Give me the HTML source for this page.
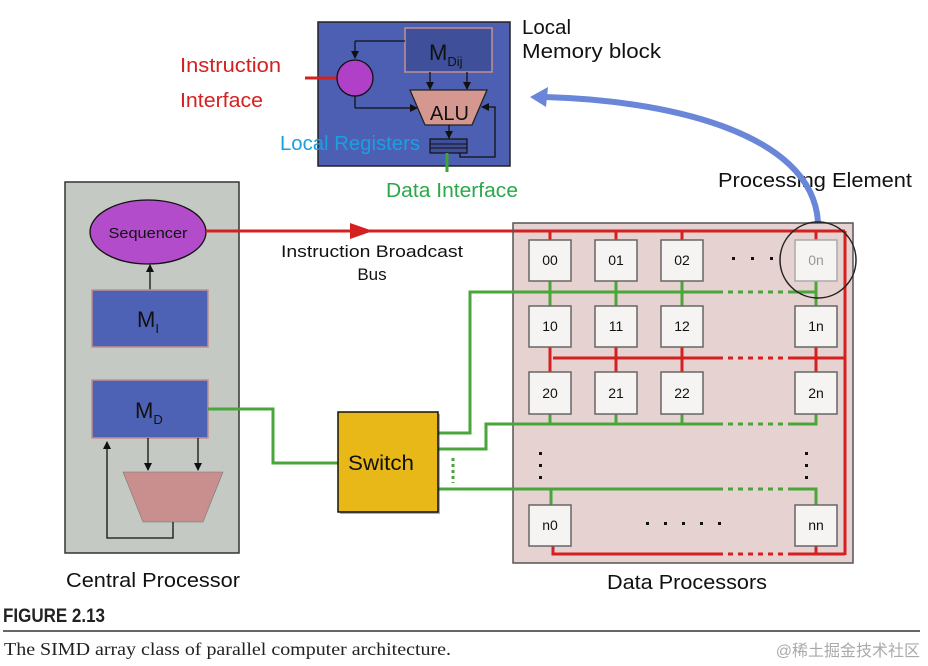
<!DOCTYPE html>
<html><head><meta charset="utf-8"><style>
html,body{margin:0;padding:0;background:#fff;width:928px;height:666px;overflow:hidden}
svg{display:block}
text{font-family:"Liberation Sans",sans-serif}
</style></head><body>
<svg width="928" height="666" viewBox="0 0 928 666" xmlns="http://www.w3.org/2000/svg">
<defs>
<marker id="ab" markerWidth="8" markerHeight="8" refX="7" refY="4" orient="auto" markerUnits="userSpaceOnUse"><path d="M0,0 L8,4 L0,8 z" fill="#111"/></marker>
</defs>
<rect x="318" y="22" width="192" height="144" fill="#4d5fb2" stroke="#222" stroke-width="1.5"/>
<rect x="405" y="28" width="87" height="44" fill="#3f4f9a" stroke="#c09090" stroke-width="1.5"/>
<text x="429" y="60" font-size="22" fill="#111">M<tspan font-size="13" dy="6">Dij</tspan></text>
<line x1="405" y1="41" x2="355" y2="41" stroke="#111" stroke-width="1.3"/>
<line x1="355" y1="41" x2="355" y2="58" stroke="#111" stroke-width="1.3" marker-end="url(#ab)"/>
<line x1="305" y1="78" x2="337" y2="78" stroke="#d42020" stroke-width="3"/>
<circle cx="355" cy="78" r="18" fill="#b040c8" stroke="#111" stroke-width="1.3"/>
<line x1="355" y1="96" x2="355" y2="108" stroke="#111" stroke-width="1.3"/>
<line x1="355" y1="108" x2="417" y2="108" stroke="#111" stroke-width="1.3" marker-end="url(#ab)"/>
<line x1="430" y1="72" x2="430" y2="89" stroke="#111" stroke-width="1.3" marker-end="url(#ab)"/>
<line x1="467" y1="72" x2="467" y2="89" stroke="#111" stroke-width="1.3" marker-end="url(#ab)"/>
<polygon points="410,90 487,90 472,125 425,125" fill="#d49890" stroke="#222" stroke-width="1.3"/>
<text x="430" y="120" font-size="20" fill="#111">ALU</text>
<line x1="449" y1="125" x2="449" y2="138" stroke="#111" stroke-width="1.3" marker-end="url(#ab)"/>
<rect x="430" y="139" width="37" height="14" fill="#3f4f9a" stroke="#111" stroke-width="1.2"/>
<line x1="430" y1="144" x2="467" y2="144" stroke="#111" stroke-width="1"/>
<line x1="430" y1="148" x2="467" y2="148" stroke="#111" stroke-width="1"/>
<polyline points="460,153 460,157 495,157 495,107 482,107" fill="none" stroke="#111" stroke-width="1.3" marker-end="url(#ab)"/>
<line x1="447" y1="153" x2="447" y2="172" stroke="#3aa63a" stroke-width="3"/>
<text x="180" y="72" font-size="20" fill="#d42020" textLength="101" lengthAdjust="spacingAndGlyphs">Instruction</text>
<text x="180" y="107" font-size="20" fill="#d42020" textLength="83" lengthAdjust="spacingAndGlyphs">Interface</text>
<text x="280" y="150" font-size="20" fill="#1aa0e0" textLength="140" lengthAdjust="spacingAndGlyphs">Local Registers</text>
<text x="386" y="197" font-size="20" fill="#2aa84a" textLength="132" lengthAdjust="spacingAndGlyphs">Data Interface</text>
<text x="522" y="34" font-size="20" fill="#111" textLength="49" lengthAdjust="spacingAndGlyphs">Local</text>
<text x="522" y="58" font-size="20" fill="#111" textLength="139" lengthAdjust="spacingAndGlyphs">Memory block</text>
<text x="718" y="187" font-size="20" fill="#111" textLength="194" lengthAdjust="spacingAndGlyphs">Processing Element</text>
<path d="M818,222 C812,130 660,100 545,97" fill="none" stroke="#6a86d8" stroke-width="6"/>
<polygon points="530,97 548,87 546,107" fill="#6a86d8"/>
<rect x="65" y="182" width="174" height="371" fill="#c4c9c4" stroke="#333" stroke-width="1.5"/>
<ellipse cx="148" cy="232" rx="58" ry="32" fill="#b34cca" stroke="#111" stroke-width="1.3"/>
<text x="148" y="238" font-size="15" fill="#111" text-anchor="middle" textLength="79" lengthAdjust="spacingAndGlyphs">Sequencer</text>
<line x1="150" y1="290" x2="150" y2="265" stroke="#111" stroke-width="1.3" marker-end="url(#ab)"/>
<rect x="92" y="290" width="116" height="57" fill="#4d62b4" stroke="#c09090" stroke-width="1.5"/>
<text x="137" y="327" font-size="22" fill="#111">M<tspan font-size="13" dy="6">I</tspan></text>
<rect x="92" y="380" width="116" height="58" fill="#4d62b4" stroke="#c09090" stroke-width="1.5"/>
<text x="135" y="418" font-size="22" fill="#111">M<tspan font-size="13" dy="6">D</tspan></text>
<line x1="148" y1="438" x2="148" y2="470" stroke="#111" stroke-width="1.3" marker-end="url(#ab)"/>
<line x1="198" y1="438" x2="198" y2="470" stroke="#111" stroke-width="1.3" marker-end="url(#ab)"/>
<polygon points="123,472 223,472 203,522 143,522" fill="#c98f8f" stroke="#777" stroke-width="0.6"/>
<polyline points="173,522 173,538 107,538 107,442" fill="none" stroke="#111" stroke-width="1.3" marker-end="url(#ab)"/>
<line x1="206" y1="231" x2="845" y2="231" stroke="#d42020" stroke-width="3"/>
<polygon points="350,223 373,231 350,239" fill="#d42020"/>
<text x="281" y="257" font-size="17" fill="#111" textLength="182" lengthAdjust="spacingAndGlyphs">Instruction Broadcast</text>
<text x="372" y="280" font-size="17" fill="#111" text-anchor="middle">Bus</text>
<rect x="513" y="223" width="340" height="340" fill="#e6d3d1" stroke="#555" stroke-width="1.5"/>
<line x1="513" y1="231" x2="845" y2="231" stroke="#d42020" stroke-width="3"/>
<g stroke="#d42020" stroke-width="3" fill="none">
<line x1="550" y1="231" x2="550" y2="240"/><line x1="616" y1="231" x2="616" y2="240"/><line x1="682" y1="231" x2="682" y2="240"/><line x1="816" y1="231" x2="816" y2="240"/>
<line x1="845" y1="231" x2="845" y2="555"/>
<line x1="553" y1="358" x2="718" y2="358"/><line x1="790" y1="358" x2="845" y2="358"/>
<line x1="718" y1="358" x2="790" y2="358" stroke-dasharray="5,5"/>
<line x1="550" y1="347" x2="550" y2="372"/><line x1="616" y1="347" x2="616" y2="372"/><line x1="682" y1="347" x2="682" y2="372"/><line x1="816" y1="347" x2="816" y2="372"/>
<polyline points="553,546 553,554 718,554"/><line x1="790" y1="554" x2="845" y2="554"/>
<line x1="718" y1="554" x2="790" y2="554" stroke-dasharray="5,5"/>
<line x1="816" y1="546" x2="816" y2="554"/>
</g>
<g stroke="#4aa63a" stroke-width="3" fill="none">
<polyline points="438,433 470,433 470,292 718,292"/><line x1="790" y1="292" x2="816" y2="292"/>
<line x1="718" y1="292" x2="790" y2="292" stroke-dasharray="5,5"/>
<line x1="550" y1="281" x2="550" y2="306"/><line x1="616" y1="281" x2="616" y2="306"/><line x1="682" y1="281" x2="682" y2="306"/><line x1="816" y1="281" x2="816" y2="306"/>
<polyline points="438,449 486,449 486,424 718,424"/><polyline points="790,424 816,424 816,414"/>
<line x1="718" y1="424" x2="790" y2="424" stroke-dasharray="5,5"/>
<line x1="550" y1="414" x2="550" y2="424"/><line x1="616" y1="414" x2="616" y2="424"/><line x1="682" y1="414" x2="682" y2="424"/>
<polyline points="438,489 718,489"/><polyline points="790,489 816,489 816,505"/>
<line x1="718" y1="489" x2="790" y2="489" stroke-dasharray="5,5"/>
<line x1="551" y1="489" x2="551" y2="505"/>
<line x1="453" y1="458" x2="453" y2="483" stroke-dasharray="3,3"/>
<polyline points="208,409 273,409 273,463 338,463"/>
</g>
<g fill="#f6f4f2" stroke="#666" stroke-width="1.5">
<rect x="529" y="240" width="42" height="41"/><rect x="595" y="240" width="42" height="41"/><rect x="661" y="240" width="42" height="41"/><rect x="795" y="240" width="42" height="41" stroke="#aaa"/>
<rect x="529" y="306" width="42" height="41"/><rect x="595" y="306" width="42" height="41"/><rect x="661" y="306" width="42" height="41"/><rect x="795" y="306" width="42" height="41"/>
<rect x="529" y="372" width="42" height="42"/><rect x="595" y="372" width="42" height="42"/><rect x="661" y="372" width="42" height="42"/><rect x="795" y="372" width="42" height="42"/>
<rect x="529" y="505" width="42" height="41"/><rect x="795" y="505" width="42" height="41"/>
</g>
<g font-size="14" fill="#111" text-anchor="middle">
<text x="550" y="265">00</text><text x="616" y="265">01</text><text x="682" y="265">02</text><text x="816" y="265" fill="#999">0n</text>
<text x="550" y="331">10</text><text x="616" y="331">11</text><text x="682" y="331">12</text><text x="816" y="331">1n</text>
<text x="550" y="398">20</text><text x="616" y="398">21</text><text x="682" y="398">22</text><text x="816" y="398">2n</text>
<text x="550" y="530">n0</text><text x="816" y="530">nn</text>
</g>
<g fill="#111">
<rect x="732" y="257" width="3" height="3"/><rect x="751" y="257" width="3" height="3"/><rect x="770" y="257" width="3" height="3"/>
<rect x="539" y="452" width="3" height="3"/><rect x="539" y="464" width="3" height="3"/><rect x="539" y="476" width="3" height="3"/>
<rect x="805" y="452" width="3" height="3"/><rect x="805" y="464" width="3" height="3"/><rect x="805" y="476" width="3" height="3"/>
<rect x="646" y="522" width="3" height="3"/><rect x="664" y="522" width="3" height="3"/><rect x="682" y="522" width="3" height="3"/><rect x="700" y="522" width="3" height="3"/><rect x="718" y="522" width="3" height="3"/>
</g>
<circle cx="818" cy="260" r="38" fill="none" stroke="#222" stroke-width="1.5"/>
<rect x="340" y="414" width="100" height="100" fill="#333" opacity="0.4"/>
<rect x="338" y="412" width="100" height="100" fill="#e8b818" stroke="#111" stroke-width="1.5"/>
<text x="348" y="470" font-size="21" fill="#111" textLength="66" lengthAdjust="spacingAndGlyphs">Switch</text>
<text x="66" y="587" font-size="20" fill="#111" textLength="174" lengthAdjust="spacingAndGlyphs">Central Processor</text>
<text x="607" y="589" font-size="20" fill="#111" textLength="160" lengthAdjust="spacingAndGlyphs">Data Processors</text>
<text x="3" y="622" font-size="19" font-weight="bold" fill="#222" textLength="102" lengthAdjust="spacingAndGlyphs">FIGURE 2.13</text>
<line x1="3" y1="631" x2="920" y2="631" stroke="#333" stroke-width="1.5"/>
<text x="4" y="655" font-size="18" fill="#222" style="font-family:'Liberation Serif',serif" textLength="447" lengthAdjust="spacingAndGlyphs">The SIMD array class of parallel computer architecture.</text>
<text x="920" y="656" font-size="16" fill="#aaa" text-anchor="end" style="font-family:'Liberation Sans','Noto Sans CJK SC',sans-serif">@稀土掘金技术社区</text>
</svg>
</body></html>
